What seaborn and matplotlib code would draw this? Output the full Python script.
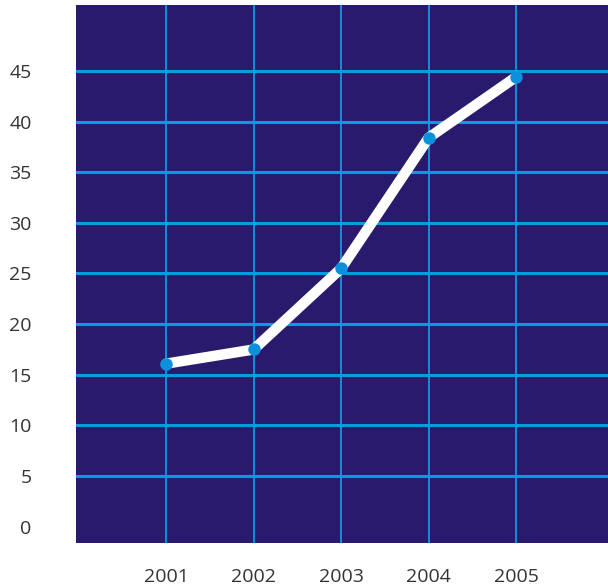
import matplotlib
matplotlib.use("Agg")
import matplotlib.pyplot as plt
import seaborn as sns
import pandas as pd

years = [2001, 2002, 2003, 2004, 2005]
values = [16.1, 17.5, 25.5, 38.4, 44.4]
y_ticks = [0, 5, 10, 15, 20, 25, 30, 35, 40, 45]

bg = "#2a1a6e"
grid_color = "#0a9ae0"
dot_color = "#0a90dc"

sns.set_theme(style="white")
plt.rcParams["font.family"] = ["Open Sans", "DejaVu Sans"]

df = pd.DataFrame({"year": years, "value": values})

fig = plt.figure(figsize=(6.08, 5.88), dpi=100)
ax = fig.add_axes([76 / 608, 45 / 588, 532 / 608, 538 / 588])
ax.set_facecolor(bg)

sns.lineplot(data=df, x="year", y="value", ax=ax, color="white", linewidth=7.5,
             marker="o", markersize=9, markerfacecolor=dot_color,
             markeredgewidth=0, zorder=3)

ax.set_xlim(1999.97, 2006.05)
ax.set_ylim(-1.6, 51.5)
ax.set_xticks(years)
ax.set_xticklabels([str(y) for y in years])
ax.set_yticks(y_ticks)
ax.set_yticklabels([str(t) for t in y_ticks])

ax.grid(axis="x", color=grid_color, linewidth=1.3)
ax.grid(axis="y", color=grid_color, linewidth=2.2)
ax.get_ygridlines()[0].set_visible(False)
ax.set_axisbelow(True)

for s in ax.spines.values():
    s.set_visible(False)

ax.tick_params(axis="both", length=0, labelsize=14, labelcolor="#333333")
ax.tick_params(axis="x", pad=18)
ax.tick_params(axis="y", pad=32)
ax.set_xlabel("")
ax.set_ylabel("")

fig.savefig("out.png", dpi=100, facecolor="white")
